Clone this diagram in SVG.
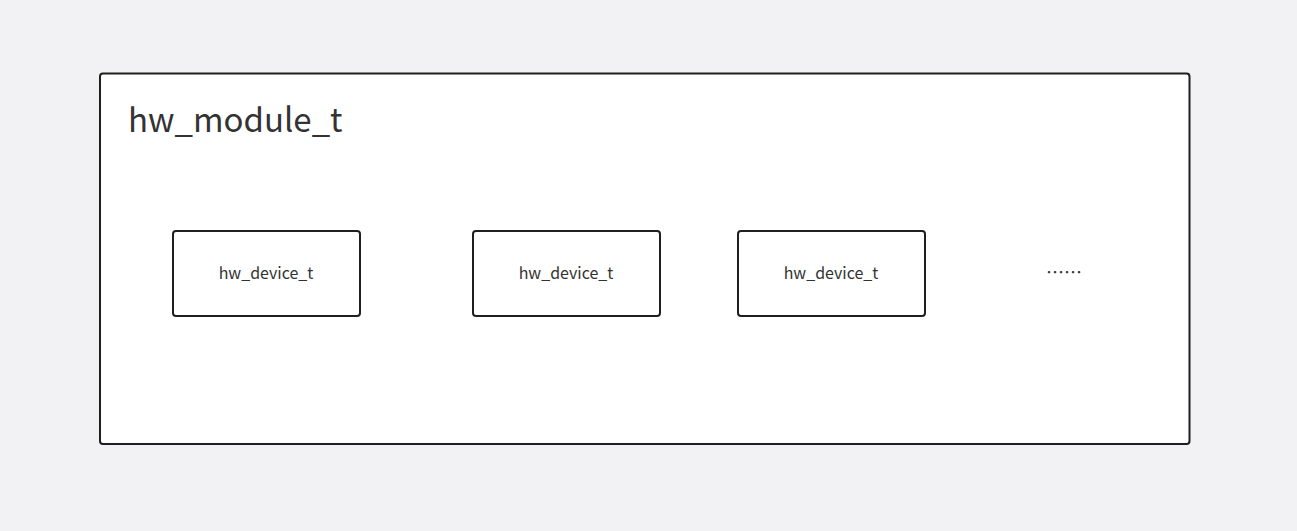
<svg xmlns="http://www.w3.org/2000/svg" width="1297" height="531" viewBox="0 0 1297 531">
<style>
.box{fill:#ffffff;stroke:#1f1f1f;stroke-width:2}
.t{font-family:"Noto Sans CJK SC","Noto Sans",sans-serif;fill:#333333}
.lbl{font-size:16px;text-anchor:middle}
</style>
<rect width="1297" height="531" fill="#f2f2f4"/>
<g id="module">
<rect class="box" x="100" y="73.5" width="1089.5" height="370.5" rx="3"/>
<text class="t" x="128" y="132" font-size="33">hw_module_t</text>
</g>
<g id="device1">
<rect class="box" x="173" y="231" width="187" height="85" rx="3"/>
<text class="t lbl" x="266" y="279">hw_device_t</text>
</g>
<g id="device2">
<rect class="box" x="473" y="231" width="187" height="85" rx="3"/>
<text class="t lbl" x="566" y="279">hw_device_t</text>
</g>
<g id="device3">
<rect class="box" x="738" y="231" width="187" height="85" rx="3"/>
<text class="t lbl" x="831" y="279">hw_device_t</text>
</g>
<g id="more">
<text class="t" x="1064" y="279" font-size="18" text-anchor="middle">……</text>
</g>
<g id="connectors"></g>
</svg>
